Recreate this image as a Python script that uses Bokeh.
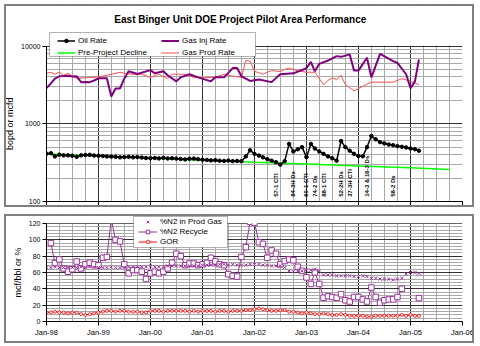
import pandas as pd
from math import pi
from bokeh.plotting import figure
from bokeh.layouts import column
from bokeh.models import (FixedTicker, DatetimeTickFormatter, Legend, LegendItem,
                          BoxAnnotation, Range1d, PrintfTickFormatter, Label,
                          LogAxis, LinearAxis, InlineStyleSheet)
from bokeh.core.properties import value
from bokeh.embed import file_html
from bokeh.resources import INLINE

FONT = "Liberation Sans"

# ---------------- data ----------------
title_text = "East Binger Unit DOE Project Pilot Area Performance"
top_ylabel = "bopd or mcfd"
bottom_ylabel = "mcf/bbl or %"

# monthly oil rate, Jan-98 .. Mar-05 (bopd)
oil_start = "1998-01"
oil_rate = [
    412, 418, 380, 400, 392, 392, 388, 375, 392, 396, 398, 390,
    388, 385, 380, 378, 376, 370, 372, 375, 370, 372, 368, 362,
    360, 362, 358, 364, 358, 360, 356, 352, 348, 355, 356, 350,
    345, 342, 338, 340, 335, 332, 336, 330, 332, 330, 380, 455,
    410, 390, 370, 350, 335, 320, 298, 330, 550, 440, 470, 500,
    372, 550, 480, 440, 410, 380, 360, 335, 600, 500, 450, 410,
    385, 382, 500, 695, 630, 580, 560, 540, 530, 515, 505, 495,
    480, 470, 450,
]

decline_dates = ["1998-01", "1999-01", "2000-01", "2001-01", "2002-01",
                 "2003-01", "2004-01", "2005-01", "2005-10"]
decline_rate = [412, 386, 362, 340, 320, 303, 287, 272, 258]

gas_inj_dates = [
    "1998-01", "1998-02", "1998-03", "1998-04", "1998-05", "1998-06", "1998-07",
    "1998-08", "1998-09", "1998-10", "1998-11", "1998-12", "1999-01", "1999-03",
    "1999-04", "1999-05", "1999-06", "1999-07", "1999-08", "1999-10", "2000-01",
    "2000-02", "2000-04", "2000-05", "2000-07", "2000-08", "2000-10", "2000-12",
    "2001-03", "2001-04", "2001-06", "2001-08", "2001-09", "2001-10", "2001-12",
    "2002-02", "2002-05", "2002-07", "2002-10", "2003-01", "2003-02", "2003-03",
    "2003-04", "2003-06", "2003-08", "2003-09", "2003-11", "2003-12", "2004-01",
    "2004-03", "2004-04", "2004-06", "2004-09", "2004-10", "2004-12", "2005-01",
    "2005-02", "2005-03",
]
gas_inj_rate = [
    2875, 3300, 3800, 4075, 4100, 4150, 4050,
    4075, 3430, 3450, 3430, 3600, 3840, 3840,
    2240, 2840, 2840, 3800, 4730, 4370, 4900,
    4450, 4730, 4200, 3510, 3950, 4330, 3950,
    3510, 3950, 3950, 5200, 5200, 4075, 3550,
    3700, 3430, 4330, 4450, 5180, 6250, 4730,
    5900, 6500, 7410, 7250, 7800, 4830, 4830,
    7050, 3950, 7930, 6390, 6050, 4330, 2875,
    3510, 6710,
]

gas_prod_dates = [
    "1998-01", "1998-02", "1998-03", "1998-04", "1998-05", "1998-06", "1998-07",
    "1998-08", "1998-10", "1998-12", "1999-02", "1999-04", "1999-06", "1999-07",
    "1999-09", "1999-11", "2000-01", "2000-03", "2000-05", "2000-06", "2000-09",
    "2000-11", "2001-01", "2001-04", "2001-06", "2001-08", "2001-10", "2001-11",
    "2001-12", "2002-01", "2002-03", "2002-04", "2002-05", "2002-07", "2002-08",
    "2002-09", "2002-11", "2003-01", "2003-03", "2003-05", "2003-06", "2003-07",
    "2003-08", "2003-09", "2003-10", "2003-12", "2004-02", "2004-04", "2004-07",
    "2004-09", "2004-11", "2005-01", "2005-03",
]
gas_prod_rate = [
    4450, 4600, 4330, 4600, 4200, 4450, 4100,
    3840, 3900, 3950, 4100, 4330, 4600, 4450,
    4330, 4330, 3950, 4330, 3800, 4330, 4330,
    3950, 3900, 3950, 4330, 4100, 3950, 6500,
    6390, 4730, 4330, 4600, 4830, 4700, 5000,
    5200, 4800, 4600, 4600, 3180, 3600, 3880,
    3700, 4200, 3180, 2650, 3030, 3430, 3430,
    3430, 3800, 3510, 3180,
]

well_labels = ["57-1 CTI", "84-3H Ds", "60-1 CTI", "74-2 Ds", "88-1 CTI",
               "52-2H Ds", "37-3H CTI", "14-3 & 16-3 Ds", "58-2 Ds"]
well_dates = ["2002-06", "2002-10", "2003-01", "2003-03", "2003-05",
              "2003-09", "2003-11", "2004-03", "2004-09"]

# bottom chart, monthly from Jan-98
n2_start = "1998-01"
n2_prod_gas = [
    66, 66, 67, 66, 66, 67, 66, 66, 67, 66, 67, 66,
    66, 66, 66, 67, 66, 66, 66, 67, 67, 67, 67, 67,
    68, 67, 67, 67, 68, 68, 68, 68, 68, 68, 68, 68,
    69, 69, 69, 69, 70, 70, 69, 70, 69, 69, 69, 70,
    70, 70, 69, 69, 68, 68, 68, 66, 62, 61, 62, 62,
    63, 63, 64, 62, 57, 57, 57, 56, 56, 56, 56, 55,
    55, 56, 55, 53, 53, 52, 52, 52, 51, 52, 53, 58,
    60, 60, 59,
]
gor = [
    11, 11, 12, 11, 11, 10, 11, 11, 9, 8, 9, 10,
    11, 12, 13, 13, 12, 13, 13, 12, 12, 12, 11, 11,
    13, 13, 13, 12, 13, 13, 13, 13, 13, 12, 13, 12,
    13, 13, 13, 12, 13, 13, 12, 13, 13, 13, 14, 14,
    15, 16, 15, 14, 13, 13, 14, 14, 12, 12, 11, 10,
    11, 10, 9, 9, 10, 9, 8, 8, 9, 8, 7, 7,
    7, 7, 6, 6, 7, 7, 7, 7, 7, 7, 8, 7,
    8, 7, 7,
]
# monthly from Feb-98, gaps as None
recycle_start = "1998-02"
n2_recycle = [
    96, 71.5, 76, 65, 61, 64, 73.5, 65, 70, 72, 70, 69,
    78, 79, 125, 100, 98, 70, 59, 63, 63, 61, 52, 59,
    61, 59, 61, 65, 72, 83, 80, 69, 71, 71, 69, 70,
    72, 78, 73.5, 70, 69, 58, 56, 55, 79, 91, 122, 121,
    97, 95, 78, 87, 83, 70, 74, 76, 75, 67, 62, 54,
    46, 60, 46, 29, 31, 30, 29, 33.5, 26, 24.5, 30, 30,
    27, 24.5, 41.6, 30, 23, 26, 27, 27, 30, 40, None, None,
    None, 28.6,
]

# ---------------- helpers ----------------
def months(start, n):
    return pd.date_range(start, periods=n, freq="MS")

def to_dt(lst):
    return pd.to_datetime(lst, format="%Y-%m")

def ms(idx):
    return [t.timestamp() * 1000.0 for t in idx]

x0, x1 = pd.Timestamp("1998-01-01"), pd.Timestamp("2006-01-01")
X0, X1 = x0.timestamp() * 1000.0, x1.timestamp() * 1000.0
year_idx = pd.date_range(x0, x1, freq="YS")
quarter_idx = [t for t in pd.date_range(x0, x1, freq="QS") if t.month != 1]
x_ticker = FixedTicker(ticks=ms(year_idx), minor_ticks=ms(quarter_idx))

# layout (pixels)
W = 480
FL, FR = 46, 462                  # frame left / right
H1, F1B, P1T = 210, 201, 45.5     # top fig height, frame bottom, px of 10000
H2, F2B, P2T = 136, 111, 13       # bottom fig height, frame bottom, px of 120

LOG_PER_PX = 2.0 / (F1B - P1T)
Y1_END = 10 ** (2 + F1B * LOG_PER_PX)
Y2_END = 120.0 * F2B / (F2B - P2T)

def xd(px):
    return X0 + (px - FL) / (FR - FL) * (X1 - X0)

def y1d(py):
    return 10 ** (2 + (F1B - py) * LOG_PER_PX)

def y2d(py):
    return (F2B - py) * 120.0 / (F2B - P2T)

MAJOR = "#303030"
MINOR = "#a8a8a8"
PURPLE = "#800080"
PURPLE2 = "#993399"

PANEL_CSS = """
:host { position: relative; }
:host::after {
  content: "";
  position: absolute;
  left: 4px; top: 4px; right: 6px; bottom: 3px;
  border: 2px solid #7f7f7f;
  pointer-events: none;
  z-index: 50;
}
"""


def style_axes(p):
    for ax in (p.xaxis[0], p.yaxis[0]):
        ax.axis_line_color = "black"
        ax.major_tick_line_color = "black"
        ax.major_tick_out = 4
        ax.major_tick_in = 0
        ax.minor_tick_out = 0
        ax.minor_tick_in = 0
        ax.major_label_text_font = FONT
        ax.major_label_text_font_size = "7px"
        ax.major_label_text_color = "black"
        ax.major_label_standoff = 2
    for g in (p.xgrid[0], p.ygrid[0]):
        g.grid_line_color = MAJOR
        g.grid_line_width = 1
        g.minor_grid_line_color = MINOR
        g.minor_grid_line_width = 1
    p.outline_line_color = None
    p.background_fill_color = "white"
    p.border_fill_color = "white"
    p.stylesheets = [InlineStyleSheet(css=PANEL_CSS)]


def label_axis(p, axis_cls, text, at, standoff):
    # a second left axis whose single tick label carries the axis title,
    # placed at the middle of the plotting region
    ax = axis_cls(ticker=FixedTicker(ticks=[at]),
                  major_label_overrides={at: text})
    ax.axis_line_color = None
    ax.major_tick_line_color = None
    ax.major_tick_out = 0
    ax.major_tick_in = 0
    ax.minor_tick_line_color = None
    ax.major_label_orientation = "vertical"
    ax.major_label_standoff = standoff
    ax.major_label_text_font = FONT
    ax.major_label_text_font_size = "9px"
    ax.major_label_text_color = "black"
    p.add_layout(ax, "left")


def cover_above(p, bottom):
    # blank the area above the plotting region (title / legend area)
    p.add_layout(BoxAnnotation(bottom=bottom, fill_color="white", fill_alpha=1,
                               line_color=None, level="glyph"))


def legend_box(p, left, right, top, bottom):
    p.add_layout(BoxAnnotation(left=left, right=right, top=top, bottom=bottom,
                               fill_color="white", fill_alpha=1,
                               line_color="black", line_width=1))


def make_legend(items, loc, glyph_w, standoff, spacing):
    lg = Legend(items=items, location=loc, orientation="vertical")
    lg.padding = 0
    lg.margin = 0
    lg.spacing = spacing
    lg.border_line_color = None
    lg.background_fill_alpha = 0
    lg.glyph_width = glyph_w
    lg.glyph_height = 9
    lg.label_height = 9
    lg.label_standoff = standoff
    lg.label_text_font = FONT
    lg.label_text_font_size = "8px"
    lg.label_text_color = "black"
    return lg


# ---------------- top chart ----------------
p1 = figure(width=W, height=H1, x_axis_type="datetime", y_axis_type="log",
            x_range=Range1d(x0, x1), y_range=Range1d(100, Y1_END), title=None,
            output_backend="svg", toolbar_location=None,
            min_border_left=FL, min_border_right=W - FR, min_border_top=0,
            min_border_bottom=H1 - F1B)
style_axes(p1)
p1.xaxis.ticker = x_ticker
p1.xgrid.ticker = x_ticker
p1.xaxis.major_label_text_font_size = "1px"
p1.xaxis.major_label_text_alpha = 0
p1.xaxis.major_label_standoff = 0
y1_ticker = FixedTicker(ticks=[100, 1000, 10000],
                        minor_ticks=[200, 300, 400, 500, 600, 700, 800, 900,
                                     2000, 3000, 4000, 5000, 6000, 7000, 8000, 9000])
p1.yaxis.ticker = y1_ticker
p1.ygrid.ticker = y1_ticker
p1.yaxis.bounds = (100, 10000)
p1.yaxis.formatter = PrintfTickFormatter(format="%d")
label_axis(p1, LogAxis, top_ylabel, 1000, 4)

oil_x = months(oil_start, len(oil_rate))
r_prod = p1.line(to_dt(gas_prod_dates), gas_prod_rate, line_color="#ff4d4d", line_width=1)
r_decl = p1.line(to_dt(decline_dates), decline_rate, line_color="#00ff00", line_width=1.5)
r_inj = p1.line(to_dt(gas_inj_dates), gas_inj_rate, line_color=PURPLE, line_width=2)
r_oil = p1.line(oil_x, oil_rate, line_color="black", line_width=1.5)
r_oil_p = p1.scatter(oil_x, oil_rate, marker="circle", size=3.5,
                     fill_color="black", line_color="black")

label_y = 115
p1.text(x=to_dt(well_dates), y=[label_y] * len(well_labels), text=well_labels,
        angle=pi / 2, text_font=value(FONT), text_font_size="6px",
        text_font_style="bold", text_align="left", text_baseline="middle",
        text_color="black")

cover_above(p1, 10000 * 1.012)
p1.add_layout(Label(x=xd(240), y=y1d(19), text=title_text, text_align="center",
                    text_baseline="middle", text_font=FONT, text_font_size="10px",
                    text_font_style="bold", text_color="black"))
legend_box(p1, xd(49), xd(255), y1d(32), y1d(56))
p1.add_layout(make_legend([LegendItem(label="Oil Rate", renderers=[r_oil, r_oil_p]),
                           LegendItem(label="Pre-Project Decline", renderers=[r_decl])],
                          (11, 144), 18, 3, 3), "center")
p1.add_layout(make_legend([LegendItem(label="Gas Inj Rate", renderers=[r_inj]),
                           LegendItem(label="Gas Prod Rate", renderers=[r_prod])],
                          (115, 144), 18, 3, 3), "center")

# ---------------- bottom chart ----------------
p2 = figure(width=W, height=H2, x_axis_type="datetime",
            x_range=p1.x_range, y_range=Range1d(0, Y2_END), title=None,
            output_backend="svg", toolbar_location=None,
            min_border_left=FL, min_border_right=W - FR, min_border_top=0,
            min_border_bottom=H2 - F2B)
style_axes(p2)
p2.xaxis.ticker = x_ticker
p2.xgrid.ticker = x_ticker
p2.xaxis.formatter = DatetimeTickFormatter(years="%b-%y", months="%b-%y",
                                           days="%b-%y", hours="%b-%y")
p2.xaxis.major_label_text_font_size = "7.5px"
y2_ticker = FixedTicker(ticks=list(range(0, 121, 20)),
                        minor_ticks=[v for v in range(0, 121, 4) if v % 20])
p2.yaxis.ticker = y2_ticker
p2.ygrid.ticker = y2_ticker
p2.yaxis.bounds = (0, 120)
label_axis(p2, LinearAxis, bottom_ylabel, 60, 3)

n2_x = months(n2_start, len(n2_prod_gas))
rc_x = months(recycle_start, len(n2_recycle))
rc_y = [float("nan") if v is None else v for v in n2_recycle]

r_gor = p2.line(n2_x, gor, line_color="#ff0000", line_width=1)
r_gor_p = p2.scatter(n2_x, gor, marker="circle", size=3, line_color="#ff0000",
                     fill_color="white", line_width=0.8)
r_rc = p2.line(rc_x, rc_y, line_color=PURPLE2, line_width=1)
r_rc_p = p2.scatter(rc_x, rc_y, marker="square", size=5.5, line_color=PURPLE2,
                    fill_color="white", line_width=1)
r_n2 = p2.scatter(n2_x, n2_prod_gas, marker="x", size=4.5, line_color=PURPLE2,
                  line_width=1)

cover_above(p2, 120.4)
legend_box(p2, xd(133), xd(227), y2d(6), y2d(37))
p2.add_layout(make_legend([LegendItem(label="%N2 in Prod Gas", renderers=[r_n2]),
                           LegendItem(label="%N2 Recycle", renderers=[r_rc, r_rc_p]),
                           LegendItem(label="GOR", renderers=[r_gor, r_gor_p])],
                          (92, 75), 19, 3, 1), "center")

layout = column(p1, p2, spacing=0)
open("out.html", "w").write(file_html(layout, INLINE))
